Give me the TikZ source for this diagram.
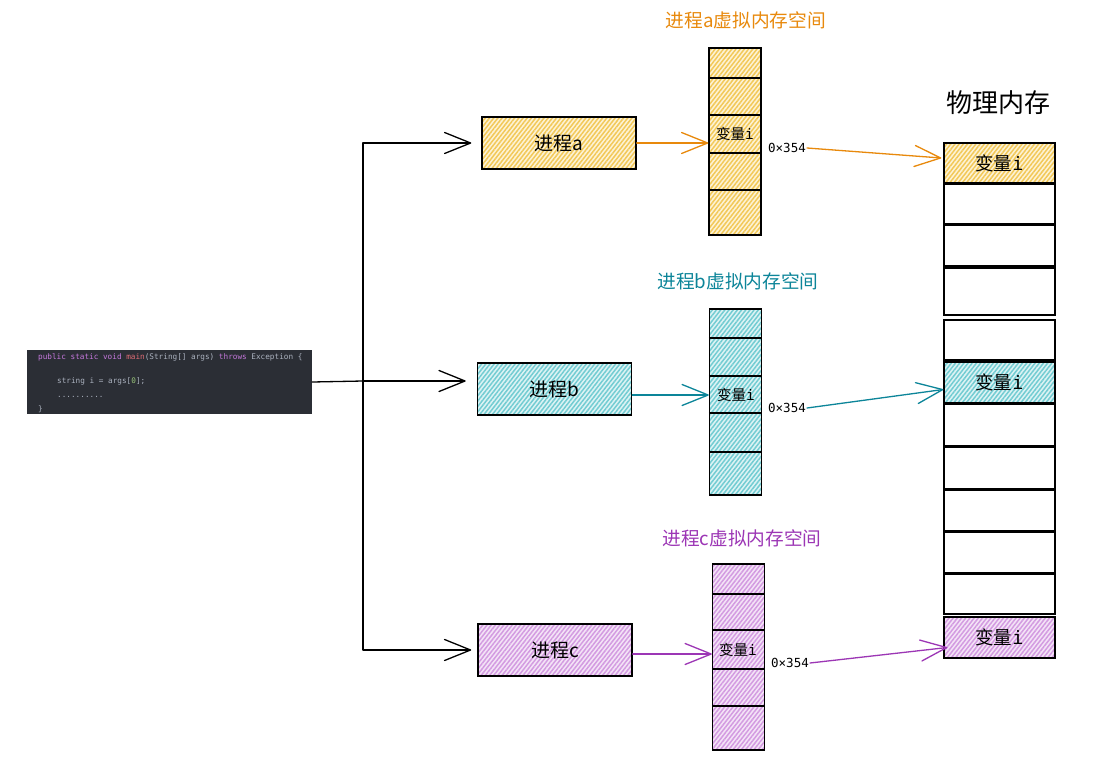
\documentclass[tikz,border=0pt]{standalone}
\usepackage{fontspec}
\setmainfont{Noto Sans CJK SC}
\setmonofont{DejaVu Sans Mono}
\usetikzlibrary{arrows.meta,patterns.meta,calc}

% palette
\definecolor{codebg}{HTML}{2B2E35}
\definecolor{kw}{HTML}{C678DD}
\definecolor{fn}{HTML}{E06C75}
\definecolor{codetxt}{HTML}{ABB2BF}
\definecolor{num}{HTML}{98C379}
\definecolor{orangeA}{HTML}{E8890C}
\definecolor{tealB}{HTML}{0C8599}
\definecolor{purpleC}{HTML}{9C36B5}
\definecolor{yelBase}{HTML}{FDF3D6}
\definecolor{yelHatch}{HTML}{F2C858}
\definecolor{cyaBase}{HTML}{DDF3F4}
\definecolor{cyaHatch}{HTML}{72CCD2}
\definecolor{purBase}{HTML}{F4E4F7}
\definecolor{purHatch}{HTML}{D39BE1}

\tikzset{
  x=1pt, y=-1pt,
  barb/.tip={Straight Barb[length=26pt,width=21pt,round]},
  conn/.style={line width=1.3pt, line cap=round, line join=round},
  hatched/.style n args={2}{preaction={fill=#1},
    pattern={Lines[angle=52,distance=3.3pt,line width=1.5pt]}, pattern color=#2},
  procbox/.style={draw, line width=1.6pt, minimum width=154pt, minimum height=52pt,
    inner sep=0pt, font=\fontsize{19}{22}\selectfont},
  vcol/.style={draw, line width=1.5pt, minimum width=52pt, minimum height=187pt, inner sep=0pt},
  vtext/.style={inner sep=0pt, font=\fontsize{14.5}{17}\selectfont},
  memrow/.style={draw, line width=1.4pt, minimum width=111pt, inner sep=0pt},
  memtext/.style={font=\fontsize{18.5}{21}\selectfont},
  addr/.style={inner sep=1pt, font=\ttfamily\fontsize{12.5}{15}\selectfont},
  vtitle/.style={inner sep=0pt, font=\fontsize{18.7}{21}\selectfont},
  codeline/.style={anchor=west, inner sep=0pt, text=codetxt,
    font=\ttfamily\fontsize{7.7}{9}\selectfont},
}

\begin{document}
\begin{tikzpicture}
\fill[white] (0,0) rectangle (1104,766);
\useasboundingbox (0,0) rectangle (1104,766);

% ---- source code block ----
\node[fill=codebg, minimum width=285pt, minimum height=64pt, inner sep=0pt] (code) at (169.5,382) {};
\node[codeline] (cl1) at (38,357) {\textcolor{kw}{public static void} \textcolor{fn}{main}(String[] args) \textcolor{kw}{throws} Exception \{};
\node[codeline] (cl2) at (57,381) {string i = args[\textcolor{num}{0}];};
\node[codeline] (cl3) at (57,397) {..........};
\node[codeline] (cl4) at (38,409) {\}};

% ---- processes ----
\node[procbox, hatched={yelBase}{yelHatch}] (pa) at (559,143) {进程a};
\node[procbox, hatched={cyaBase}{cyaHatch}] (pb) at (554.5,389) {进程b};
\node[procbox, hatched={purBase}{purHatch}] (pc) at (555,650) {进程c};

% ---- fork from the code block to the three processes ----
\coordinate (j) at (363,381);
\draw[conn] (code.east) -- (j);
\draw[conn, -barb, shorten >=10pt] (j) |- (pa.west);
\draw[conn, -barb, shorten >=11pt] (j) -- (j -| pb.west);
\draw[conn, -barb, shorten >=6pt] (j) |- (pc.west);

% ---- virtual address spaces ----
\node[vtitle, text=orangeA] (ta) at (746,20) {进程a虚拟内存空间};
\node[vtitle, text=tealB] (tb) at (738,281) {进程b虚拟内存空间};
\node[vtitle, text=purpleC] (tc) at (742,538) {进程c虚拟内存空间};

\node[vcol, hatched={yelBase}{yelHatch}] (va) at (735,141.5) {};
\foreach \yy in {78,115,153,190} \draw[line width=1.4pt] (va.west |- 0,\yy) -- (va.east |- 0,\yy);
\node[vtext] (vai) at (735,134) {变量\texttt{i}};

\node[vcol, hatched={cyaBase}{cyaHatch}, minimum height=186pt] (vb) at (735.5,402) {};
\foreach \yy in {338,376,413,452} \draw[line width=1.4pt] (vb.west |- 0,\yy) -- (vb.east |- 0,\yy);
\node[vtext] (vbi) at (736,395) {变量\texttt{i}};

\node[vcol, hatched={purBase}{purHatch}, minimum height=186pt] (vc) at (738.5,657) {};
\foreach \yy in {594,630,669,706} \draw[line width=1.4pt] (vc.west |- 0,\yy) -- (vc.east |- 0,\yy);
\node[vtext] (vci) at (738,650) {变量\texttt{i}};

% process -> its virtual space
\draw[conn, orangeA, -barb] (pa.east) -- (pa.east -| va.west);
\draw[conn, tealB, -barb] ([yshift=-6pt]pb.east) -- ([yshift=-6pt]pb.east -| vb.west);
\draw[conn, purpleC, -barb] ([yshift=-4pt]pc.east) -- ([yshift=-4pt]pc.east -| vc.west);

% ---- physical memory ----
\node[inner sep=0pt, font=\fontsize{26}{29}\selectfont] (phys) at (998,103) {物理内存};
\foreach \n/\t/\b in {2/184/224, 3/225/266, 4/268/315, 5/320/360, 7/404/446,
                      8/447/489, 9/490/531, 10/532/573, 11/574/614} {
  \pgfmathsetmacro\h{\b-\t}
  \pgfmathsetmacro\c{(\t+\b)/2}
  \node[memrow, minimum height=\h pt] (p\n) at (999.5,\c) {};
}
\node[memrow, memtext, minimum height=40pt, hatched={yelBase}{yelHatch}] (p1) at (999.5,163) {变量\texttt{i}};
\node[memrow, memtext, minimum height=41pt, hatched={cyaBase}{cyaHatch}] (p6) at (999.5,382.5) {变量\texttt{i}};
\node[memrow, memtext, minimum height=41pt, hatched={purBase}{purHatch}] (p12) at (999.5,637.5) {变量\texttt{i}};

% ---- address translation ----
\node[addr] (aa) at (787,148) {0×354};
\node[addr] (ab) at (787,408) {0×354};
\node[addr] (ac) at (790,663) {0×354};
\draw[conn, orangeA, -barb] (aa.east) -- ([xshift=-2pt,yshift=5pt]p1.west);
\draw[conn, tealB, -barb] (ab.east) -- ([yshift=-7pt]p6.west);
\draw[conn, purpleC, -barb] (ac.east) -- ([xshift=4pt,yshift=-10pt]p12.west);

\end{tikzpicture}
\end{document}
